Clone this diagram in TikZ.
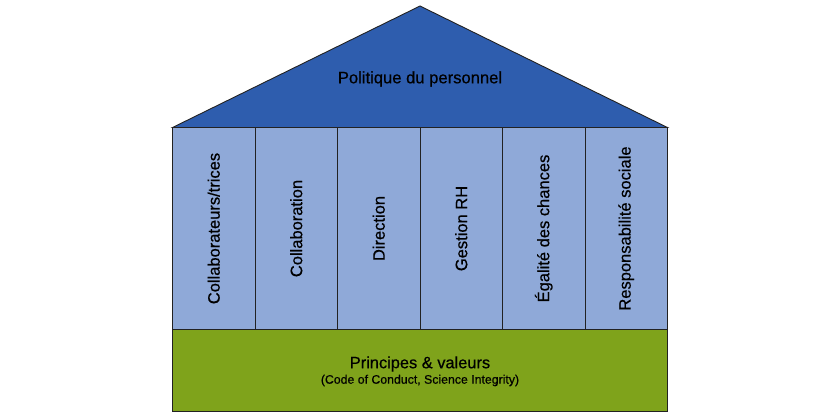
\documentclass[tikz,border=0pt]{standalone}
\usepackage{fontspec}
\setmainfont[FakeBold=0.5]{Liberation Sans}
\definecolor{roofblue}{HTML}{2E5DAE}
\definecolor{pillarblue}{HTML}{8FA9D8}
\definecolor{basegreen}{HTML}{7FA31B}
\definecolor{edge}{HTML}{222222}
\begin{document}
\begin{tikzpicture}[x=1pt,y=-1pt,
  outl/.style={draw=edge,line width=0.9pt,line join=miter},
  pillar/.style={outl,fill=pillarblue},
  ptext/.style={rotate=90,font=\fontsize{16.5}{19}\selectfont,text=black},
]
\useasboundingbox (0,0) rectangle (840,420);
% base
\draw[outl,fill=basegreen] (172.5,329.5) rectangle (667.5,411.5);
\node[font=\fontsize{16.4}{19}\selectfont] (base) at (420,364) {Principes \& valeurs};
\node[font=\fontsize{12.3}{14}\selectfont] (basesub) at (420,380.5) {(Code of Conduct, Science Integrity)};
% pillars
\foreach \a/\b in {172.5/255,255/337.5,337.5/420,420/502.5,502.5/585,585/667.5}{
  \draw[pillar] (\a,127.5) rectangle (\b,329.5);
}
\node[ptext] (p1) at (213.75,228.5) {Collaborateurs/trices};
\node[ptext] (p2) at (296.25,228.5) {Collaboration};
\node[ptext] (p3) at (378.75,228.5) {Direction};
\node[ptext] (p4) at (461.25,228.5) {Gestion RH};
\node[ptext] (p5) at (543.75,228.5) {Égalité des chances};
\node[ptext] (p6) at (626.25,228.5) {Responsabilité sociale};
% roof
\draw[outl,fill=roofblue] (172.5,127.5) -- (420,6) -- (667.5,127.5) -- cycle;
\node[font=\fontsize{16.6}{19}\selectfont] (roof) at (420,79) {Politique du personnel};
\end{tikzpicture}
\end{document}
